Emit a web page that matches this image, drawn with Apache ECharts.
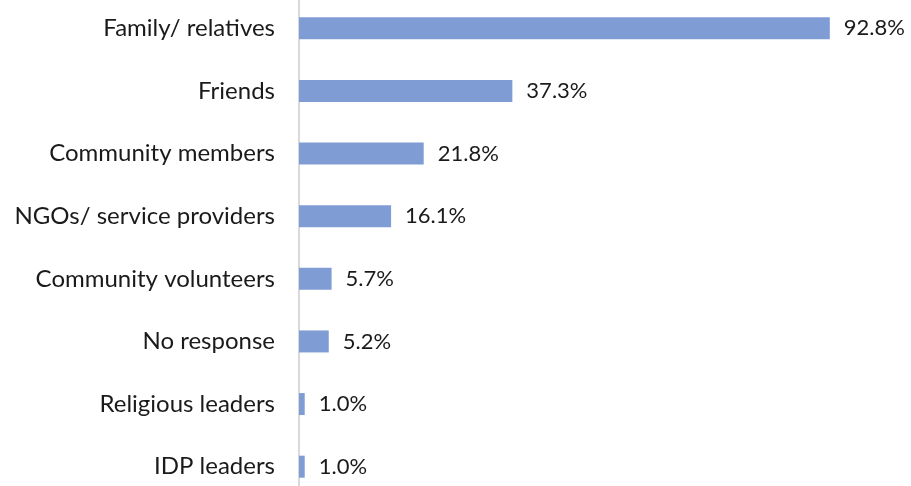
<!DOCTYPE html>
<html>
<head>
<meta charset="utf-8">
<script src="https://cdn.jsdelivr.net/npm/echarts@6/dist/echarts.min.js"></script>
<style>
  html, body { margin: 0; padding: 0; background: #ffffff; overflow: hidden; }
  /* the plot band runs a few pixels past the top and bottom of the view */
  #chart { position: absolute; left: 0; top: -3px; width: 911px; height: 505px; }
</style>
</head>
<body>
<div id="chart"></div>
<script>
// Sources of support, share of respondents (%), listed top to bottom
const categories = [
  'Family/ relatives',
  'Friends',
  'Community members',
  'NGOs/ service providers',
  'Community volunteers',
  'No response',
  'Religious leaders',
  'IDP leaders'
];
const values = [92.8, 37.3, 21.8, 16.1, 5.7, 5.2, 1.0, 1.0];

const chart = echarts.init(document.getElementById('chart'), null, { renderer: 'canvas' });

chart.setOption({
  backgroundColor: '#ffffff',
  animation: false,
  grid: {
    left: 299,
    right: 40,
    top: 0,
    bottom: 4,
    containLabel: false
  },
  xAxis: {
    type: 'value',
    min: 0,
    max: 100,
    show: false
  },
  yAxis: {
    type: 'category',
    inverse: true,
    data: categories,
    axisLine: { show: true, lineStyle: { color: '#d9d9d9', width: 2 } },
    axisTick: { show: false },
    axisLabel: {
      margin: 24,
      color: '#1a1a1a',
      fontFamily: 'Lato',
      fontSize: 24
    }
  },
  series: [{
    type: 'bar',
    data: values,
    barWidth: 22,
    itemStyle: { color: '#7f9cd4' },
    label: {
      show: true,
      position: 'right',
      distance: 14,
      color: '#1a1a1a',
      fontFamily: 'Lato',
      fontSize: 22,
      formatter: p => p.value.toFixed(1) + '%'
    }
  }]
});
</script>
</body>
</html>
